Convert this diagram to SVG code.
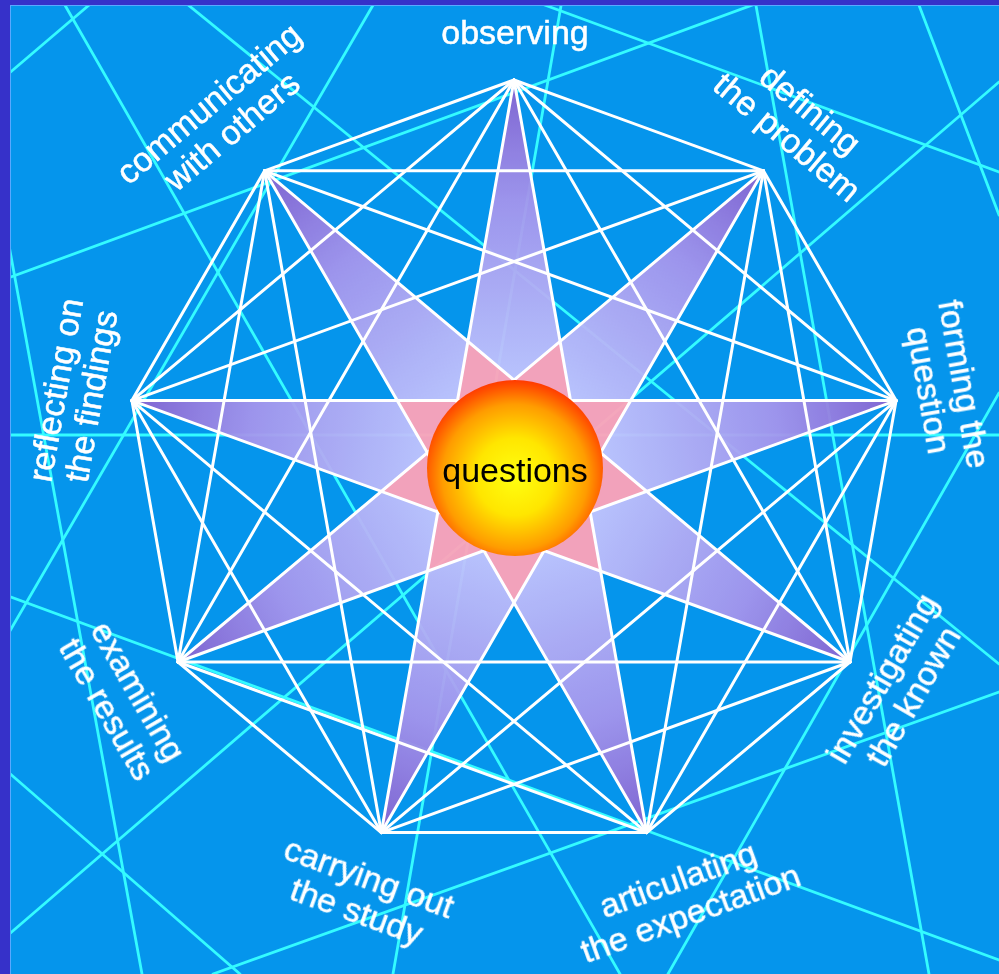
<svg xmlns="http://www.w3.org/2000/svg" xmlns:xlink="http://www.w3.org/1999/xlink" width="999" height="974" viewBox="0 0 999 974">
<defs>
<style>
.cy{stroke:#34fbff;stroke-width:2.8;fill:none;stroke-linecap:round}
.wl{stroke:#ffffff;stroke-width:3;stroke-linecap:round}
.lb{font-family:"Liberation Sans",Arial,Helvetica,sans-serif;font-size:34px;fill:#ffffff;stroke:#ffffff;stroke-width:0.5;text-anchor:middle}
.q{font-family:"Liberation Sans",Arial,Helvetica,sans-serif;font-size:34px;fill:#000000;text-anchor:middle}
</style>
<linearGradient id="spk" x1="0" y1="0" x2="0" y2="1">
<stop offset="0" stop-color="#8860cf"/>
<stop offset="0.4" stop-color="#a894ec"/>
<stop offset="1" stop-color="#c6c6fe"/>
</linearGradient>
<radialGradient id="sun" cx="0.5" cy="0.55" r="0.55">
<stop offset="0" stop-color="#ffff10"/>
<stop offset="0.4" stop-color="#ffe600"/>
<stop offset="0.75" stop-color="#ff9c00"/>
<stop offset="0.93" stop-color="#ff5400"/>
<stop offset="1" stop-color="#ff3a00"/>
</radialGradient>
<path id="spike" d="M0,-388 L46.09,-126.62 L0,-87.96 L-46.09,-126.62 Z" fill="url(#spk)"/>
</defs>
<rect x="0" y="0" width="999" height="974" fill="#0595ec"/>
<g id="background-lines">
<line class="cy" x1="0" y1="81" x2="95" y2="0"/>
<line class="cy" x1="62" y1="0" x2="620" y2="974"/>
<line class="cy" x1="182" y1="0" x2="999" y2="664"/>
<line class="cy" x1="376" y1="0" x2="0" y2="648"/>
<line class="cy" x1="0" y1="281" x2="766" y2="0"/>
<line class="cy" x1="0" y1="196" x2="142" y2="974"/>
<line class="cy" x1="0" y1="435" x2="999" y2="435"/>
<line class="cy" x1="562" y1="0" x2="393" y2="974"/>
<line class="cy" x1="755" y1="0" x2="929" y2="974"/>
<line class="cy" x1="917" y1="0" x2="999" y2="215"/>
<line class="cy" x1="999" y1="82" x2="0" y2="942"/>
<line class="cy" x1="999" y1="393" x2="668" y2="974"/>
<line class="cy" x1="0" y1="593" x2="999" y2="960"/>
<line class="cy" x1="0" y1="765" x2="240" y2="974"/>
<line class="cy" x1="999" y1="692" x2="213" y2="974"/>
<line class="cy" x1="531" y1="0" x2="999" y2="172"/>
</g>
<g id="star" transform="translate(514,468)">
<polygon fill="#ffa2b8" opacity="0.95" points="0,-87.96 46.09,-126.62 56.54,-67.38 116.70,-67.38 86.62,-15.27 132.70,23.40 76.18,43.98 86.62,103.22 30.08,82.66 0,134.75 -30.08,82.66 -86.62,103.22 -76.18,43.98 -132.70,23.40 -86.62,-15.27 -116.70,-67.38 -56.54,-67.38 -46.09,-126.62"/>
<g opacity="0.93">
<use xlink:href="#spike"/>
<use xlink:href="#spike" transform="rotate(40)"/>
<use xlink:href="#spike" transform="rotate(80)"/>
<use xlink:href="#spike" transform="rotate(120)"/>
<use xlink:href="#spike" transform="rotate(160)"/>
<use xlink:href="#spike" transform="rotate(200)"/>
<use xlink:href="#spike" transform="rotate(240)"/>
<use xlink:href="#spike" transform="rotate(280)"/>
<use xlink:href="#spike" transform="rotate(320)"/>
</g>
</g>
<g id="connectors">
<line class="wl" x1="514" y1="80" x2="763.4" y2="170.8"/>
<line class="wl" x1="514" y1="80" x2="896.1" y2="400.6"/>
<line class="wl" x1="514" y1="80" x2="850" y2="662"/>
<line class="wl" x1="514" y1="80" x2="646.7" y2="832.6"/>
<line class="wl" x1="514" y1="80" x2="381.3" y2="832.6"/>
<line class="wl" x1="514" y1="80" x2="178" y2="662"/>
<line class="wl" x1="514" y1="80" x2="131.9" y2="400.6"/>
<line class="wl" x1="514" y1="80" x2="264.6" y2="170.8"/>
<line class="wl" x1="763.4" y1="170.8" x2="896.1" y2="400.6"/>
<line class="wl" x1="763.4" y1="170.8" x2="850" y2="662"/>
<line class="wl" x1="763.4" y1="170.8" x2="646.7" y2="832.6"/>
<line class="wl" x1="763.4" y1="170.8" x2="381.3" y2="832.6"/>
<line class="wl" x1="763.4" y1="170.8" x2="178" y2="662"/>
<line class="wl" x1="763.4" y1="170.8" x2="131.9" y2="400.6"/>
<line class="wl" x1="763.4" y1="170.8" x2="264.6" y2="170.8"/>
<line class="wl" x1="896.1" y1="400.6" x2="850" y2="662"/>
<line class="wl" x1="896.1" y1="400.6" x2="646.7" y2="832.6"/>
<line class="wl" x1="896.1" y1="400.6" x2="381.3" y2="832.6"/>
<line class="wl" x1="896.1" y1="400.6" x2="178" y2="662"/>
<line class="wl" x1="896.1" y1="400.6" x2="131.9" y2="400.6"/>
<line class="wl" x1="896.1" y1="400.6" x2="264.6" y2="170.8"/>
<line class="wl" x1="850" y1="662" x2="646.7" y2="832.6"/>
<line class="wl" x1="850" y1="662" x2="381.3" y2="832.6"/>
<line class="wl" x1="850" y1="662" x2="178" y2="662"/>
<line class="wl" x1="850" y1="662" x2="131.9" y2="400.6"/>
<line class="wl" x1="850" y1="662" x2="264.6" y2="170.8"/>
<line class="wl" x1="646.7" y1="832.6" x2="381.3" y2="832.6"/>
<line class="wl" x1="646.7" y1="832.6" x2="178" y2="662"/>
<line class="wl" x1="646.7" y1="832.6" x2="131.9" y2="400.6"/>
<line class="wl" x1="646.7" y1="832.6" x2="264.6" y2="170.8"/>
<line class="wl" x1="381.3" y1="832.6" x2="178" y2="662"/>
<line class="wl" x1="381.3" y1="832.6" x2="131.9" y2="400.6"/>
<line class="wl" x1="381.3" y1="832.6" x2="264.6" y2="170.8"/>
<line class="wl" x1="178" y1="662" x2="131.9" y2="400.6"/>
<line class="wl" x1="178" y1="662" x2="264.6" y2="170.8"/>
<line class="wl" x1="131.9" y1="400.6" x2="264.6" y2="170.8"/>
</g>
<g id="node-questions">
<circle cx="515" cy="468" r="88" fill="url(#sun)"/>
<text class="q" x="515" y="482">questions</text>
</g>
<g id="node-observing">
<text class="lb" x="515" y="44">observing</text>
</g>
<g id="node-defining" transform="translate(799,123) rotate(40)">
<text class="lb" x="0" y="-6">defining</text>
<text class="lb" x="0" y="30">the problem</text>
</g>
<g id="node-forming" transform="translate(947,387) rotate(80)">
<text class="lb" x="0" y="-6">forming the</text>
<text class="lb" x="0" y="30">question</text>
</g>
<g id="node-investigating" transform="translate(897,687) rotate(-60)">
<text class="lb" x="0" y="-6">investigating</text>
<text class="lb" x="0" y="30">the known</text>
</g>
<g id="node-articulating" transform="translate(684,896) rotate(-20)">
<text class="lb" x="0" y="-6">articulating</text>
<text class="lb" x="0" y="30">the expectation</text>
</g>
<g id="node-carrying" transform="translate(363,894) rotate(20)">
<text class="lb" x="0" y="-6">carrying out</text>
<text class="lb" x="0" y="30">the study</text>
</g>
<g id="node-examining" transform="translate(123,700) rotate(60)">
<text class="lb" x="0" y="-6">examining</text>
<text class="lb" x="0" y="30">the results</text>
</g>
<g id="node-reflecting" transform="translate(73,393) rotate(-80)">
<text class="lb" x="0" y="-6">reflecting on</text>
<text class="lb" x="0" y="30">the findings</text>
</g>
<g id="node-communicating" transform="translate(220,117) rotate(-40)">
<text class="lb" x="0" y="-6">communicating</text>
<text class="lb" x="0" y="30">with others</text>
</g>
<g id="frame">
<rect x="0" y="0" width="10" height="974" fill="#3631c9"/>
<rect x="0" y="0" width="999" height="5" fill="#3631c9"/>
<line x1="10.5" y1="5" x2="10.5" y2="974" stroke="#5aa8ff" stroke-width="1"/>
<line x1="10" y1="5.5" x2="999" y2="5.5" stroke="#5aa8ff" stroke-width="1"/>
</g>
</svg>
